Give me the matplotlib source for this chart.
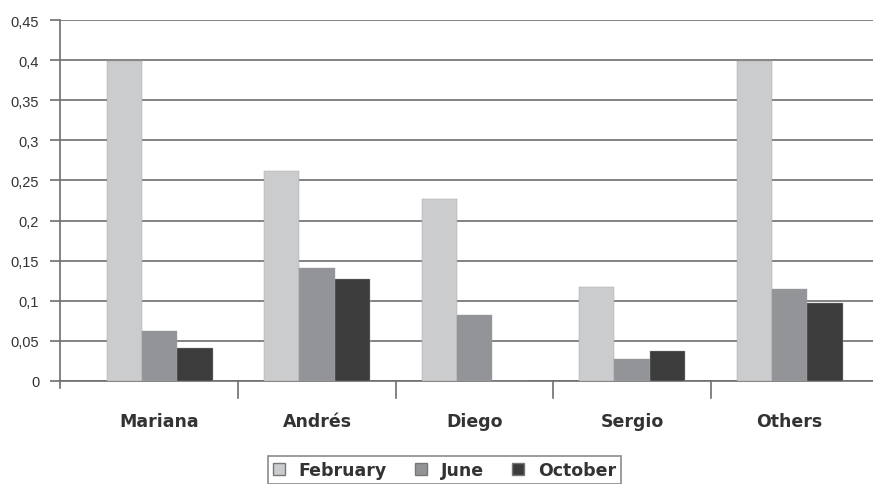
import matplotlib
matplotlib.use("Agg")
import matplotlib.pyplot as plt
import numpy as np

names = ["Mariana", "Andrés", "Diego", "Sergio", "Others"]
february = [0.399, 0.262, 0.227, 0.117, 0.399]
june = [0.062, 0.141, 0.082, 0.027, 0.115]
october = [0.041, 0.127, 0.0, 0.037, 0.097]
yticks = [0, 0.05, 0.1, 0.15, 0.2, 0.25, 0.3, 0.35, 0.4, 0.45]
ylabels = ["0", "0,05", "0,1", "0,15", "0,2", "0,25", "0,3", "0,35", "0,4", "0,45"]

fig = plt.figure(figsize=(8.73, 4.85), dpi=100)
ax = fig.add_axes([0.0687, 0.2124, 0.9313, 0.7443])

x = np.arange(len(names))
w = 0.225
series = [("February", february, "#cbcccd"), ("June", june, "#939497"), ("October", october, "#3c3c3c")]
for i, (lab, vals, col) in enumerate(series):
    ax.bar(x + (i - 1) * w, vals, w, color=col, edgecolor="#a0a0a0", linewidth=0.3,
           label=lab, zorder=3)

ax.set_ylim(0, 0.45)
ax.set_xlim(-0.633, 4.529)
ax.set_yticks(yticks)
ax.set_yticklabels(ylabels, family="Liberation Sans", fontsize=10.5, color="#333333")
ax.yaxis.grid(True, color="#6e6e6e", linewidth=1.2, zorder=0)
ax.tick_params(axis="y", length=7, width=1.2, color="#6e6e6e", pad=8)

# category names sit between the separator ticks
ax.set_xticks(x)
ax.set_xticklabels(names, fontweight="bold", fontsize=12.5, color="#333333")
ax.tick_params(axis="x", length=0, pad=22)
for b in x[:-1] + 0.5:
    ax.plot([b, b], [0, -0.021], color="#6e6e6e", lw=1.2, clip_on=False)
ax.plot([-0.633, -0.633], [0, -0.009], color="#6e6e6e", lw=1.2, clip_on=False)

for s in ["top", "right"]:
    ax.spines[s].set_visible(False)
for s in ["left", "bottom"]:
    ax.spines[s].set_color("#6e6e6e")
    ax.spines[s].set_linewidth(1.2)

leg = fig.legend(loc="upper center", bbox_to_anchor=(0.509, 0.058), ncol=3,
                 borderaxespad=0, frameon=True, fancybox=False, edgecolor="#6e6e6e",
                 prop={"weight": "bold", "size": 12.5}, handlelength=0.7,
                 handleheight=0.7, columnspacing=1.6, borderpad=0.3, handletextpad=0.8)
leg.get_frame().set_linewidth(1.2)
for h in leg.legend_handles:
    h.set_edgecolor("#777777")
    h.set_linewidth(1.0)
for t in leg.get_texts():
    t.set_color("#333333")

fig.savefig("out.png", dpi=100)
